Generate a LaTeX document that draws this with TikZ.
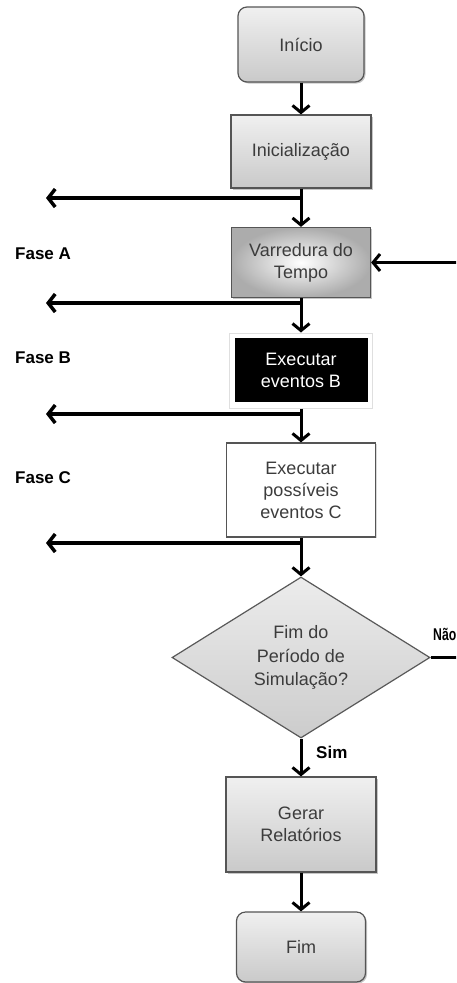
\documentclass[tikz,border=0pt]{standalone}
\usepackage{fontspec}
\usepackage{graphicx}
\setmainfont{Liberation Sans}
\usetikzlibrary{arrows.meta,shapes.geometric,shadows,calc}
\definecolor{boxtext}{HTML}{3C3C3C}
\definecolor{boxedge}{HTML}{555555}
\begin{document}
\begin{tikzpicture}[x=1pt,y=-1pt,
  every node/.style={font=\fontsize{18}{22}\selectfont, text=boxtext, align=center, inner sep=0pt},
  greybox/.style={draw=boxedge, line width=1.2pt, top color=gray!12, bottom color=gray!42,
    drop shadow={shadow xshift=1.5pt, shadow yshift=-1.5pt, opacity=0.45}},
  termbox/.style={greybox, rounded corners=9pt},
  sweepbox/.style={draw=boxedge, line width=1.2pt, inner color=white, outer color=gray!65,
    drop shadow={shadow xshift=1.5pt, shadow yshift=-1.5pt, opacity=0.45}},
  darkbox/.style={fill=black, text=white},
  glowbox/.style={draw=gray!25, line width=1pt, fill=white},
  plainbox/.style={draw=boxedge, line width=1.2pt, fill=white,
    drop shadow={shadow xshift=1pt, shadow yshift=-1pt, opacity=0.3}},
  decision/.style={diamond, draw=gray!70!black, line width=1.2pt, top color=gray!15, bottom color=gray!40, aspect=1.6},
  flow/.style={draw=black, line width=3pt, -{Straight Barb[length=7pt,width=17pt]}},
  branch/.style={draw=black, line width=3.5pt, -{Straight Barb[length=7pt,width=18pt]}},
  loopline/.style={draw=black, line width=3pt},
  phase/.style={font=\bfseries\fontsize{17}{20}\selectfont, text=black, anchor=west},
  answer/.style={font=\bfseries\fontsize{17}{20}\selectfont, text=black, anchor=west}
]
\clip (0,0) rectangle (456,983);

% process nodes
\node[termbox, minimum width=126pt, minimum height=75pt] (inicio) at (301,44.5) {Início};
\node[greybox, minimum width=140pt, minimum height=73pt] (ini) at (301,151.5) {Inicialização};
\node[sweepbox, minimum width=139pt, minimum height=70pt] (var) at (301,262.5) {Varredura do\\Tempo};
\node[glowbox, minimum width=143pt, minimum height=75pt] (exBglow) at (301,370.5) {};
\node[darkbox, minimum width=133pt, minimum height=64pt] (exB) at (301,370) {Executar\\eventos B};
\node[plainbox, minimum width=149pt, minimum height=94pt] (exC) at (301,490) {Executar\\possíveis\\eventos C};
\node[decision, minimum width=258pt, minimum height=161pt, font=\fontsize{18}{23.5}\selectfont] (dec) at (301,657.5) {Fim do\\Período de\\Simulação?};
\node[greybox, minimum width=150pt, minimum height=95pt] (gerar) at (301,824.5) {Gerar\\Relatórios};
\node[termbox, minimum width=129pt, minimum height=70pt] (fim) at (301,947) {Fim};

% phase labels
\node[phase] (faseA) at (15,254) {Fase A};
\node[phase] (faseB) at (15,358) {Fase B};
\node[phase] (faseC) at (15,478) {Fase C};

% free ends of the side branches
\coordinate (outA) at (46,198);
\coordinate (outB) at (46,303);
\coordinate (outC) at (46,414);
\coordinate (outD) at (46,543);
\coordinate (loopR) at (475,0);

% main flow
\draw[flow] (inicio.south) -- (ini.north);
\draw[flow] (ini.south) -- (var.north);
\draw[flow] (var.south) -- (exBglow.north);
\draw[flow] (exBglow.south) -- (exC.north);
\draw[flow] (exC.south) -- (dec.north);
\draw[flow] (dec.south) -- (gerar.north);
\draw[flow] (gerar.south) -- (fim.north);

% side branches
\draw[branch] (ini.south |- outA) -- (outA);
\draw[branch] (var.south |- outB) -- (outB);
\draw[branch] (exBglow.south |- outC) -- (outC);
\draw[branch] (exC.south |- outD) -- (outD);

% return loop
\draw[flow] (dec.east) -- (dec.east -| loopR) -- (var.east -| loopR) -- (var.east);

% decision answers
\node[answer] (sim) at (316,752) {Sim};
\node[answer] (nao) at (433,634) {\scalebox{0.72}[1]{Não}};
\end{tikzpicture}
\end{document}
